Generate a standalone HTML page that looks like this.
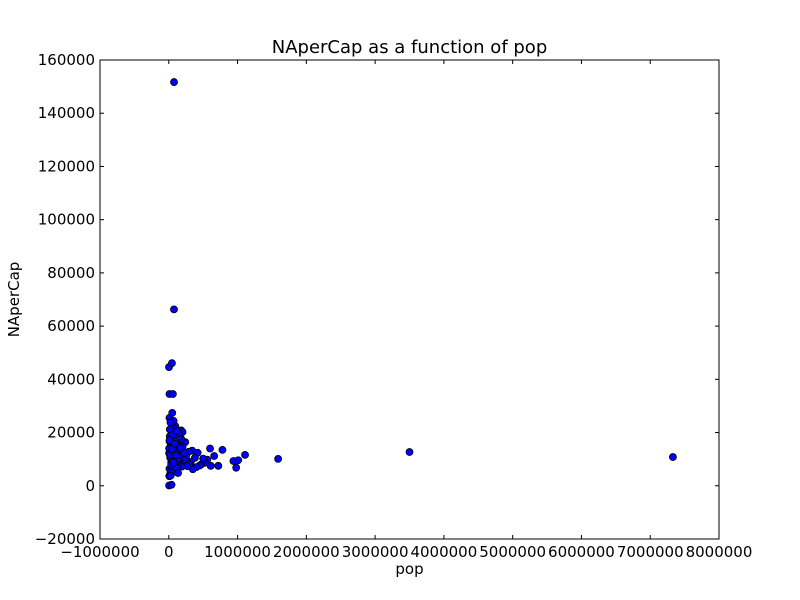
<!DOCTYPE html>
<html><head><meta charset="utf-8"><style>
body{margin:0;background:#fff}
svg{display:block;font-family:"DejaVu Sans","Liberation Sans",sans-serif}
</style></head><body>
<svg id="chart" width="800" height="600">
<rect width="800" height="600" fill="#fff"/>
<g id="marks"></g>
<g id="axes"></g>
<text x="409.5" y="53" font-size="18" text-anchor="middle">NAperCap as a function of pop</text>
<text x="409.5" y="574" font-size="15" text-anchor="middle">pop</text>
<text transform="translate(19,299.5) rotate(-90)" font-size="15" text-anchor="middle">NAperCap</text>
</svg>
<script>
const popK=[76,76,3,46,10,60,10,50,5,40,
 1109,1590,3500,7330,940,980,1010,780,720,660,610,600,560,520,500,470,450,420,400,380,350,340,320,300,290,270,250,240,220,200,190,180,170,160,150,140,130,120,110,100,95,90,85,80,75,70,65,60,55,50,45,40,35,30,25,20,15,10,5,8,
 20,40,60,80,100,120,140,160,180,200,220,30,50,70,90,110,130,150,170,10,25,45,65,85,105,125,145,5,15,35,55,75,95,115,135,12,28,48,68,88,108];
const naK=[151.7,66.3,44.6,46.1,34.5,34.5,25.5,27.4,0.1,0.4,
 11.6,10.1,12.7,10.8,9.3,6.8,9.6,13.5,7.5,11.2,7.5,14,9.8,8.6,10.2,8,7.6,12.4,7,10.5,6.2,13.2,9,8.2,12.8,7.4,11,16.4,9.8,14.6,7.2,20.8,10.4,12,8.6,15.6,7.6,18,12.6,9.2,22.4,6,14.8,19.4,8.4,24.4,11.2,6.6,17,13,5,20.4,8.8,15.4,23.8,10.6,18.6,6.4,12.2,3.6,
 4.4,5.6,7,9.6,11.8,6.2,10.8,13.6,17.6,20.2,12.4,15.2,13.4,17.8,5.4,16,9.4,18.4,14.2,16.8,11.6,9,21.6,7.8,6.8,10,19.8,14,21.2,8,19,12.6,16.6,20.6,4.8,17.2,3.8,13.8,8.8,15.8,11.4];
const X0=100,X1=719,Y0=60,Y1=539;
const xs=v=>X0+(v+1e6)/9e6*(X1-X0);
const ys=v=>Y1-(v+20000)/180000*(Y1-Y0);
const NS="http://www.w3.org/2000/svg";
const marks=document.getElementById('marks');
const n=Math.min(popK.length,naK.length);
for(let i=0;i<n;i++){
 const c=document.createElementNS(NS,'circle');
 c.setAttribute('cx',xs(popK[i]*1000));c.setAttribute('cy',ys(naK[i]*1000));
 c.setAttribute('r',3.5);c.setAttribute('fill','#0000ff');c.setAttribute('stroke','#000');c.setAttribute('stroke-width','0.8');
 
 
 marks.appendChild(c);
}
const xTicks=[-1000000,0,1000000,2000000,3000000,4000000,5000000,6000000,7000000,8000000];
const yTicks=[-20000,0,20000,40000,60000,80000,100000,120000,140000,160000];
const axes=document.getElementById('axes');
let h=`<rect x="${X0}" y="${Y0}" width="${X1-X0}" height="${Y1-Y0}" fill="none" stroke="#000"/>`;
xTicks.forEach(t=>{const x=xs(t);
 h+=`<line x1="${x}" x2="${x}" y1="${Y1}" y2="${Y1-4}" stroke="#000"/><line x1="${x}" x2="${x}" y1="${Y0}" y2="${Y0+4}" stroke="#000"/>`;
 h+=`<text x="${x}" y="${Y1+18}" font-size="15" text-anchor="middle">${t<0?'\u2212'+(-t):t}</text>`;});
yTicks.forEach(t=>{const y=ys(t);
 h+=`<line x1="${X0}" x2="${X0+4}" y1="${y}" y2="${y}" stroke="#000"/><line x1="${X1}" x2="${X1-4}" y1="${y}" y2="${y}" stroke="#000"/>`;
 h+=`<text x="${X0-5}" y="${y+5}" font-size="15" text-anchor="end">${t<0?'\u2212'+(-t):t}</text>`;});
axes.innerHTML=h;
</script>
</body></html>
